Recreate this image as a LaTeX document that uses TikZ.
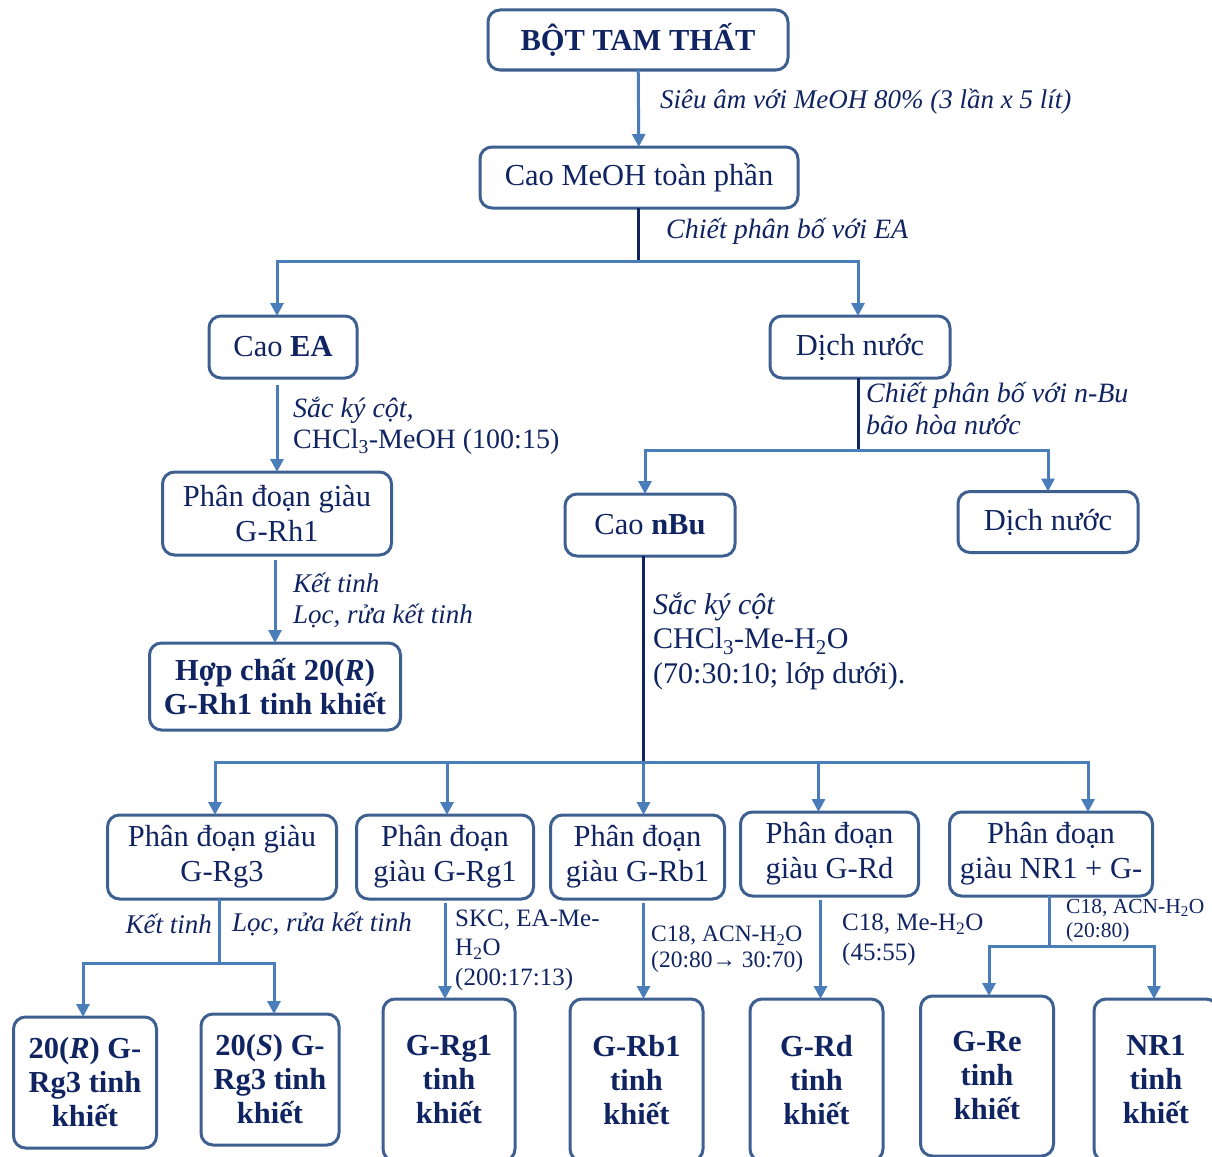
\documentclass[tikz,border=0pt]{standalone}
\usepackage{fontspec}
\setmainfont{Liberation Serif}
\usetikzlibrary{positioning, arrows.meta}
\definecolor{boxline}{RGB}{62,96,145}
\definecolor{flowline}{RGB}{74,126,187}
\definecolor{textnavy}{RGB}{16,36,98}

\begin{document}
\begin{tikzpicture}[x=1pt, y=-1pt,
	stage/.style={draw=boxline, line width=3pt, rounded corners=12pt, align=center, text=textnavy, inner sep=2pt, outer sep=0pt, font=\fontsize{30.5}{35}\selectfont},
	pure/.style={stage, font=\fontsize{30.5}{34}\selectfont\bfseries},
	flow/.style={draw=flowline, line width=3pt, -{Triangle[width=13pt,length=13pt]}},
	split/.style={draw=flowline, line width=3pt},
	trunk/.style={draw=textnavy, line width=3pt},
	lbl/.style={anchor=west, align=left, text=textnavy, inner sep=0pt, font=\fontsize{27}{31}\selectfont\itshape}]
		\clip (0,0) rectangle (1212,1156);
		% top part
		\node[] (top) at (638,40) [pure, minimum width=300pt, minimum height=60pt] {BỘT TAM THẤT};
		\node[below=77pt of top, xshift=1pt] (meoh) [stage, minimum width=318pt, minimum height=61pt] {Cao MeOH toàn phần};
		\node[below=108pt of meoh, xshift=-356pt] (caoea) [stage, minimum width=148pt, minimum height=62pt] {Cao \textbf{EA}};
		\node[below=108pt of meoh, xshift=221pt] (dich1) [stage, minimum width=180pt, minimum height=62pt] {Dịch nước};
		% EA branch
		\node[below=94pt of caoea, xshift=-6pt] (rh1) [stage, minimum width=229pt, minimum height=83pt] {Phân đoạn giàu\\G-Rh1};
		\node[below=88pt of rh1, xshift=-2pt] (rh1pure) [pure, minimum width=251pt, minimum height=87pt] {Hợp chất 20(\textit{R})\\G-Rh1 tinh khiết};
		% water branch
		\node[below=116pt of dich1, xshift=-210pt] (nbu) [stage, minimum width=170pt, minimum height=62pt] {Cao \textbf{nBu}};
		\node[right=223pt of nbu, yshift=3pt] (dich2) [stage, minimum width=180pt, minimum height=61pt] {Dịch nước};
		% fractions
		\node[below=259pt of nbu, xshift=-428pt] (rg3) [stage, minimum width=229pt, minimum height=84pt] {Phân đoạn giàu\\G-Rg3};
		\node[right=20pt of rg3] (rg1) [stage, minimum width=177pt, minimum height=84pt] {Phân đoạn\\giàu G-Rg1};
		\node[right=17pt of rg1] (rb1) [stage, minimum width=174pt, minimum height=84pt] {Phân đoạn\\giàu G-Rb1};
		\node[right=16pt of rb1, yshift=3pt] (rd) [stage, minimum width=178pt, minimum height=84pt] {Phân đoạn\\giàu G-Rd};
		\node[right=31pt of rd] (nr1mix) [stage, minimum width=203pt, minimum height=84pt] {Phân đoạn\\giàu NR1 + G-};
		% pure compounds
		\node[below=118pt of rg3, xshift=-137pt] (rg3r) [pure, minimum width=143pt, minimum height=131pt] {20(\textit{R}) G-\\Rg3 tinh\\khiết};
		\node[below=115pt of rg3, xshift=48pt] (rg3s) [pure, minimum width=138pt, minimum height=131pt] {20(\textit{S}) G-\\Rg3 tinh\\khiết};
		\node[below=100pt of rg1, xshift=4pt] (rg1pure) [pure, minimum width=132pt, minimum height=162pt] {G-Rg1\\tinh\\khiết};
		\node[below=100pt of rb1, xshift=-1pt] (rb1pure) [pure, minimum width=133pt, minimum height=162pt] {G-Rb1\\tinh\\khiết};
		\node[below=103pt of rd, xshift=-13pt] (rdpure) [pure, minimum width=133pt, minimum height=162pt] {G-Rd\\tinh\\khiết};
		\node[below=100pt of nr1mix, xshift=-64pt] (repure) [pure, minimum width=133pt, minimum height=160pt] {G-Re\\tinh\\khiết};
		\node[below=103pt of nr1mix, xshift=105pt] (nr1pure) [pure, minimum width=124pt, minimum height=162pt] {NR1\\tinh\\khiết};
		
		\coordinate (j1) at (638,261);
		\coordinate (j2) at (858,450);
		\coordinate (j3) at (643,762);
		\coordinate (j4) at (219,963);
		\coordinate (j5) at (1049,946);
		
		\draw[flow] (top) -- (meoh);
		\draw[trunk] (meoh.south -| j1) -- (j1);
		\draw[flow] (j1) -| ([xshift=-6pt]caoea.north);
		\draw[flow] (j1) -| ([xshift=-2pt]dich1.north);
		\draw[flow, shorten <=7pt] (caoea.south -| rh1.north) -- (rh1.north);
		\draw[flow, shorten <=5pt] (rh1.south -| rh1pure.north) -- (rh1pure.north);
		\draw[trunk] (dich1.south -| j2) -- (j2);
		\draw[flow] (j2) -| ([xshift=-5pt]nbu.north);
		\draw[flow] (j2) -| (dich2.north);
		\draw[trunk] (nbu.south -| j3) -- (j3);
		\draw[flow] (j3) -| ([xshift=-7pt]rg3.north);
		\draw[flow] (j3) -| ([xshift=2pt]rg1.north);
		\draw[flow] (j3) -| ([xshift=6pt]rb1.north);
		\draw[flow] (j3) -| ([xshift=-11pt]rd.north);
		\draw[flow] (j3) -| ([xshift=37pt]nr1mix.north);
		\draw[split] (rg3.south -| j4) -- (j4);
		\draw[flow] (j4) -| ([xshift=-2pt]rg3r.north);
		\draw[flow] (j4) -| ([xshift=4pt]rg3s.north);
		\draw[flow, shorten <=4pt] (rg1.south) -- (rg1.south |- rg1pure.north);
		\draw[flow, shorten <=4pt] ([xshift=6pt]rb1.south) -- ([xshift=6pt]rb1.south |- rb1pure.north);
		\draw[flow, shorten <=4pt] ([xshift=-9pt]rd.south) -- ([xshift=-9pt]rd.south |- rdpure.north);
		\draw[split] (nr1mix.south -| j5) -- (j5);
		\draw[flow] (j5) -| ([xshift=2pt]repure.north);
		\draw[flow] (j5) -| ([xshift=-2pt]nr1pure.north);
		
		% step labels
		\node (l1) at (660,102) [lbl] {Siêu âm với MeOH 80\% (3 lần x 5 lít)};
		\node (l2) at (666,231) [lbl, font=\fontsize{28}{31}\selectfont\itshape] {Chiết phân bố với EA};
		\node (l3) at (293,426) [lbl, font=\fontsize{28}{31}\selectfont] {\textit{Sắc ký cột,}\\CHCl\textsubscript{3}-MeOH (100:15)};
		\node (l4) at (293,600) [lbl] {Kết tinh\\Lọc, rửa kết tinh};
		\node (l5) at (866,409) [lbl, font=\fontsize{28}{32}\selectfont\itshape] {Chiết phân bố với n-Bu\\bão hòa nước};
		\node (l6) at (653,641) [lbl, font=\fontsize{30}{34.5}\selectfont] {\textit{Sắc ký cột}\\CHCl\textsubscript{3}-Me-H\textsubscript{2}O\\(70:30:10; lớp dưới).};
		\node (l7) at (212,924) [lbl, anchor=east] {Kết tinh};
		\node (l7b) at (232,924) [lbl] {Lọc, rửa kết tinh};
		\node (l8) at (455,950) [lbl, font=\fontsize{25}{29.5}\selectfont] {SKC, EA-Me-\\H\textsubscript{2}O\\(200:17:13)};
		\node (l9) at (651,949) [lbl, font=\fontsize{23.5}{26}\selectfont] {C18, ACN-H\textsubscript{2}O\\(20:80→ 30:70)};
		\node (l10) at (842,940) [lbl, font=\fontsize{25}{30}\selectfont] {C18, Me-H\textsubscript{2}O\\(45:55)};
		\node (l11) at (1066,921) [lbl, font=\fontsize{21.5}{24}\selectfont] {C18, ACN-H\textsubscript{2}O\\(20:80)};
	\end{tikzpicture}
\end{document}
